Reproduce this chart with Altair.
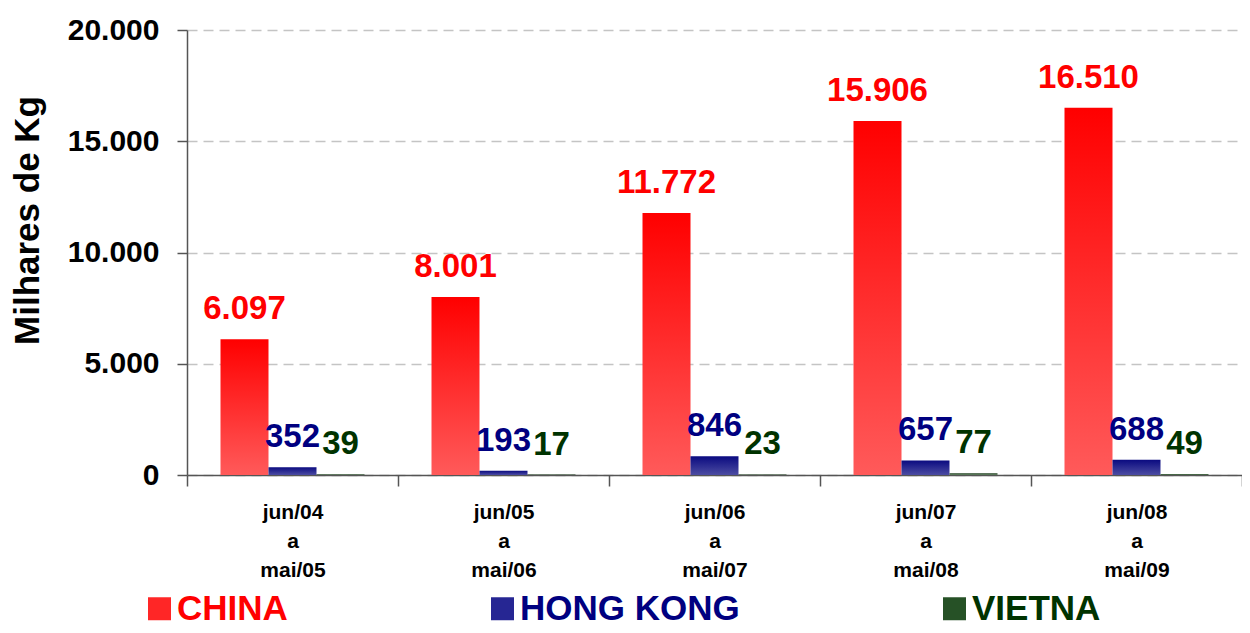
import altair as alt
import pandas as pd

periods = ["jun/04 a mai/05", "jun/05 a mai/06", "jun/06 a mai/07", "jun/07 a mai/08", "jun/08 a mai/09"]
series = ["CHINA", "HONG KONG", "VIETNA"]
china = [6097, 8001, 11772, 15906, 16510]
hong_kong = [352, 193, 846, 657, 688]
vietna = [39, 17, 23, 77, 49]

label_colors = ["#FF0000", "#000080", "#003300"]
grad_stops = [("#FF0000", "#FF5A5A"), ("#0A0A80", "#4C4CA2"), ("#1A3A1A", "#6E8E6E")]

rows = []
for s, vals in zip(series, [china, hong_kong, vietna]):
    for p, v in zip(periods, vals):
        rows.append({"period": p, "series": s, "value": v})
df = pd.DataFrame(rows)

FONT = "Liberation Sans"

x_enc = alt.X(
    "period:N", sort=periods,
    scale=alt.Scale(paddingInner=0, paddingOuter=0),
    axis=alt.Axis(
        title=None, tickBand="extent", labelAngle=0,
        labelExpr="split(datum.label, ' ')",
        labelFont=FONT, labelFontSize=21, labelFontWeight="bold", labelColor="black",
        labelLineHeight=29, labelPadding=15, labelBaseline="top",
        tickSize=11, tickColor="#555555", tickWidth=1.5,
        domainColor="#555555", domainWidth=1.5, grid=False,
    ),
)
xo_enc = alt.XOffset("series:N", sort=series,
                     scale=alt.Scale(domain=series, paddingInner=0, paddingOuter=0.698))
y_enc = alt.Y(
    "value:Q",
    scale=alt.Scale(domain=[0, 20000], nice=False),
    axis=alt.Axis(
        values=[0, 5000, 10000, 15000, 20000],
        labelExpr="replace(format(datum.value, ','), ',', '.')",
        labelFont=FONT, labelFontSize=30, labelFontWeight="bold", labelColor="black",
        labelPadding=18, tickSize=10, tickColor="#555555", tickWidth=1.5,
        domainColor="#555555", domainWidth=1.5,
        grid=True, gridDash=[10, 6], gridColor="#C4C4C4", gridWidth=1.5,
        title="Milhares de Kg", titleFont=FONT, titleFontSize=35, titleFontWeight="bold",
        titleColor="black", titleX=-149, titleY=190, titleBaseline="alphabetic",
    ),
)

label_color_expr = "datum.value == 'CHINA' ? '#FF0000' : (datum.value == 'HONG KONG' ? '#000080' : '#003300')"

color_enc = alt.Color(
    "series:N",
    scale=alt.Scale(domain=series, range=label_colors),
    legend=alt.Legend(
        orient="none", legendX=-45, legendY=561, direction="horizontal", title=None,
        symbolType="square", symbolSize=529, symbolStrokeWidth=0, symbolOpacity=0.85,
        labelFont=FONT, labelFontSize=35, labelFontWeight="bold",
        labelColor=alt.ExprRef(label_color_expr), labelLimit=500,
        labelOffset=0, columnPadding=197, padding=0,
    ),
)

layers = []
for i, s in enumerate(series):
    top, bottom = grad_stops[i]
    grad = alt.Gradient(
        gradient="linear",
        stops=[alt.GradientStop(color=top, offset=0), alt.GradientStop(color=bottom, offset=1)],
        x1=0, x2=0, y1=0, y2=1,
    )
    bars = alt.Chart().transform_filter(alt.datum.series == s).mark_bar(fill=grad).encode(
        x=x_enc, xOffset=xo_enc, y=y_enc
    )
    layers.append(bars)

texts = alt.Chart().transform_calculate(
    label="replace(format(datum.value, ','), ',', '.')"
).mark_text(
    font=FONT, fontSize=33, fontWeight="bold",
    dy=-20, baseline="alphabetic", align="center",
).encode(x=x_enc, xOffset=xo_enc, y=y_enc, text="label:N", color=color_enc)
layers.append(texts)

chart = alt.layer(*layers, data=df).properties(
    width=1055, height=445,
    autosize=alt.AutoSizeParams(type="none"),
    padding={"left": 179, "top": 22, "right": 0, "bottom": 152},
).configure_view(stroke=None)

chart.save("out.html", embed_options={"renderer": "svg", "actions": False})
